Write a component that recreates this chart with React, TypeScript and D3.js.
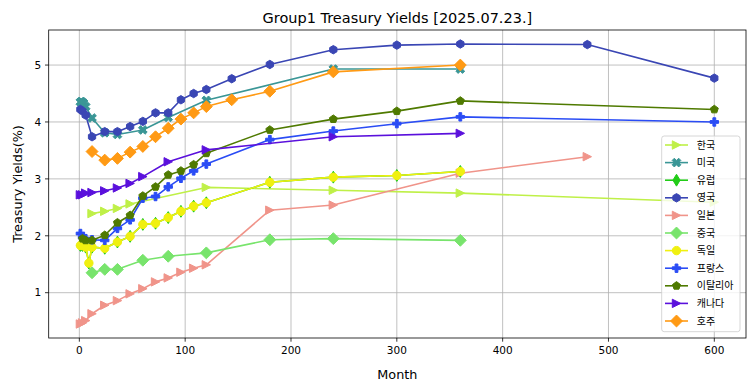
import * as d3 from 'd3'

// maturities in months, yields in %
const koreaM = [12, 24, 36, 48, 120, 240, 360, 600]
const koreaY = [2.39, 2.43, 2.48, 2.56, 2.85, 2.8, 2.75, 2.59]

const usM = [1, 2, 3, 4, 6, 12, 24, 36, 60, 84, 120, 240, 360]
const usY = [4.35, 4.36, 4.34, 4.33, 4.27, 4.07, 3.81, 3.78, 3.86, 4.08, 4.38, 4.93, 4.93]

const euroM = [1, 3, 6, 9, 12, 24, 36, 48, 60, 72, 84, 96, 108, 120, 180, 240, 300, 360]
const euroY = [1.83, 1.83, 1.8, 1.52, 1.8, 1.78, 1.89, 1.99, 2.2, 2.22, 2.32, 2.43, 2.52, 2.58, 2.94, 3.03, 3.06, 3.13]

const ukM = [1, 3, 6, 12, 24, 36, 48, 60, 72, 84, 96, 108, 120, 144, 180, 240, 300, 360, 480, 600]
const ukY = [4.22, 4.19, 4.12, 3.74, 3.83, 3.83, 3.92, 4.01, 4.16, 4.16, 4.39, 4.5, 4.57, 4.76, 5.01, 5.27, 5.35, 5.37, 5.36, 4.77]

const japanM = [1, 3, 6, 12, 24, 36, 48, 60, 72, 84, 96, 108, 120, 180, 240, 360, 480]
const japanY = [0.45, 0.47, 0.51, 0.63, 0.78, 0.86, 0.98, 1.07, 1.19, 1.26, 1.36, 1.43, 1.49, 2.45, 2.54, 3.1, 3.39]

const chinaM = [12, 24, 36, 60, 84, 120, 180, 240, 360]
const chinaY = [1.35, 1.41, 1.41, 1.57, 1.64, 1.7, 1.93, 1.95, 1.92]

const germanyM = [1, 3, 6, 9, 12, 24, 36, 48, 60, 72, 84, 96, 108, 120, 180, 240, 300, 360]
const germanyY = [1.83, 1.83, 1.8, 1.52, 1.8, 1.78, 1.89, 1.99, 2.2, 2.22, 2.32, 2.43, 2.52, 2.58, 2.94, 3.03, 3.06, 3.13]

const franceM = [1, 3, 6, 12, 24, 36, 48, 60, 72, 84, 96, 108, 120, 180, 240, 300, 360, 600]
const franceY = [2.04, 1.97, 1.95, 1.93, 1.92, 2.13, 2.28, 2.66, 2.69, 2.86, 3.01, 3.14, 3.26, 3.69, 3.84, 3.97, 4.09, 4.0]

const italyM = [3, 6, 12, 24, 36, 48, 60, 72, 84, 96, 108, 120, 180, 240, 300, 360, 600]
const italyY = [1.95, 1.92, 1.92, 2.01, 2.23, 2.36, 2.7, 2.86, 3.07, 3.14, 3.25, 3.45, 3.86, 4.05, 4.19, 4.37, 4.22]

const canadaM = [1, 3, 6, 12, 24, 36, 48, 60, 84, 120, 240, 360]
const canadaY = [2.72, 2.72, 2.75, 2.76, 2.79, 2.84, 2.92, 3.04, 3.3, 3.51, 3.74, 3.8]

const australiaM = [12, 24, 36, 48, 60, 72, 84, 96, 108, 120, 144, 180, 240, 360]
const australiaY = [3.48, 3.33, 3.36, 3.47, 3.57, 3.74, 3.89, 4.05, 4.16, 4.27, 4.39, 4.54, 4.88, 5.0]

const names = ['한국', '미국', '유럽', '영국', '일본', '중국', '독일', '프랑스', '이탈리아', '캐나다', '호주']
const colors = ['#bff048', '#3a9696', '#22cc18', '#3a46b4', '#f0948a', '#78e46c', '#f0f010', '#2a4cf5', '#4f7a00', '#5a10dc', '#ff9a14']
const markers = ['>', 'X', 'd', 'h', '>', 'D', 'o', 'P', 'p', '>', 'D']
const monthsList = [koreaM, usM, euroM, ukM, japanM, chinaM, germanyM, franceM, italyM, canadaM, australiaM]
const yieldsList = [koreaY, usY, euroY, ukY, japanY, chinaY, germanyY, franceY, italyY, canadaY, australiaY]

const xTicks = [0, 100, 200, 300, 400, 500, 600]
const yTicks = [1, 2, 3, 4, 5]

const W = 755
const H = 391
const margin = { left: 48.7, top: 30, right: 9, bottom: 53 }
const font = 'DejaVu Sans, sans-serif'

function polygon(n, r, rot = 0) {
	const pts = []
	for (let i = 0; i < n; i++) {
		const a = rot + (i * 2 * Math.PI) / n
		pts.push([r * Math.sin(a), -r * Math.cos(a)])
	}
	return 'M' + pts.map((p) => p.join(',')).join('L') + 'Z'
}

function plusPath(s, angle) {
	const a = s / 6
	const l = s / 2
	const raw = [
		[-a, -l], [a, -l], [a, -a], [l, -a], [l, a], [a, a],
		[a, l], [-a, l], [-a, a], [-l, a], [-l, -a], [-a, -a],
	]
	const c = Math.cos(angle)
	const sn = Math.sin(angle)
	const pts = raw.map(([x, y]) => [x * c - y * sn, x * sn + y * c])
	return 'M' + pts.map((p) => p.join(',')).join('L') + 'Z'
}

function markerPath(type) {
	const s = 8.4
	switch (type) {
		case '>':
			return `M${s / 2},0L${-s / 2},${-s / 2}L${-s / 2},${s / 2}Z`
		case 'D': {
			const h = s * 0.707
			return `M0,${-h}L${h},0L0,${h}L${-h},0Z`
		}
		case 'd': {
			const h = s * 0.707
			const w = h * 0.6
			return `M0,${-h}L${w},0L0,${h}L${-w},0Z`
		}
		case 'h':
			return polygon(6, s / 2)
		case 'p':
			return polygon(5, s / 2)
		case 'P':
			return plusPath(s, 0)
		case 'X':
			return plusPath(s * 1.1, Math.PI / 4)
		default:
			return d3.arc()({ innerRadius: 0, outerRadius: s / 2, startAngle: 0, endAngle: 2 * Math.PI })
	}
}

export default function App() {
	const allM = monthsList.flat()
	const allY = yieldsList.flat()
	const [mMin, mMax] = d3.extent(allM)
	const [yMin, yMax] = d3.extent(allY)
	const px = (mMax - mMin) * 0.05
	const py = (yMax - yMin) * 0.05

	const x = d3.scaleLinear().domain([mMin - px, mMax + px]).range([margin.left, W - margin.right])
	const y = d3.scaleLinear().domain([yMin - py, yMax + py]).range([H - margin.bottom, margin.top])

	const line = d3
		.line()
		.x((d) => x(d[0]))
		.y((d) => y(d[1]))

	const x0 = margin.left
	const x1 = W - margin.right
	const y0 = margin.top
	const y1 = H - margin.bottom

	const legX = 661.7
	const legY = 136
	const rowH = 17.6

	return (
		<div style={{ position: 'absolute', left: 0, top: 0 }}>
			<svg width={W} height={H} style={{ display: 'block', background: '#fff' }}>
				<rect x={0} y={0} width={W} height={H} fill="#fff" />
				{/* grid */}
				<g stroke="#b0b0b0" strokeWidth={0.8}>
					{xTicks.map((t) => (
						<line key={'gx' + t} x1={x(t)} x2={x(t)} y1={y0} y2={y1} />
					))}
					{yTicks.map((t) => (
						<line key={'gy' + t} x1={x0} x2={x1} y1={y(t)} y2={y(t)} />
					))}
				</g>

				<defs>
					<clipPath id="plot">
						<rect x={x0} y={y0} width={x1 - x0} height={y1 - y0} />
					</clipPath>
				</defs>

				<g clipPath="url(#plot)">
					{names.map((name, i) => {
						const pts = monthsList[i].map((m, j) => [m, yieldsList[i][j]])
						const mp = markerPath(markers[i])
						return (
							<g key={name}>
								<path d={line(pts)} fill="none" stroke={colors[i]} strokeWidth={1.6} strokeLinejoin="round" />
								{pts.map((p, j) => (
									<path
										key={j}
										d={mp}
										transform={`translate(${x(p[0])},${y(p[1])})`}
										fill={colors[i]}
										stroke={colors[i]}
										strokeWidth={1}
										strokeLinejoin="miter"
									/>
								))}
							</g>
						)
					})}
				</g>

				{/* axes frame */}
				<rect x={x0} y={y0} width={x1 - x0} height={y1 - y0} fill="none" stroke="#000" strokeWidth={0.8} />

				{/* ticks */}
				<g fontFamily={font} fontSize={10.5} fill="#000">
					{xTicks.map((t) => (
						<g key={'tx' + t}>
							<line x1={x(t)} x2={x(t)} y1={y1} y2={y1 + 3.7} stroke="#000" strokeWidth={0.8} />
							<text x={x(t)} y={y1 + 15.5} textAnchor="middle">
								{t}
							</text>
						</g>
					))}
					{yTicks.map((t) => (
						<g key={'ty' + t}>
							<line x1={x0 - 3.7} x2={x0} y1={y(t)} y2={y(t)} stroke="#000" strokeWidth={0.8} />
							<text x={x0 - 7.5} y={y(t) + 3.8} textAnchor="end">
								{t}
							</text>
						</g>
					))}
				</g>

				{/* labels */}
				<text x={(x0 + x1) / 2} y={22.5} textAnchor="middle" fontFamily={font} fontSize={14.5}>
					Group1 Treasury Yields [2025.07.23.]
				</text>
				<text x={(x0 + x1) / 2} y={378.5} textAnchor="middle" fontFamily={font} fontSize={12.8}>
					Month
				</text>
				<text
					transform={`translate(21.5,${(y0 + y1) / 2}) rotate(-90)`}
					textAnchor="middle"
					fontFamily={font}
					fontSize={12.8}
				>
					Treasury Yields(%)
				</text>

				{/* legend */}
				<rect
					x={legX}
					y={legY}
					width={78.3}
					height={195.7}
					rx={2.5}
					fill="#fff"
					fillOpacity={0.8}
					stroke="#cccccc"
					strokeWidth={0.8}
				/>
				{names.map((name, i) => {
					const cy = legY + 9 + i * rowH
					return (
						<g key={'leg' + name}>
							<line x1={665} x2={688} y1={cy} y2={cy} stroke={colors[i]} strokeWidth={1.6} />
							<path
								d={markerPath(markers[i])}
								transform={`translate(676.5,${cy})`}
								fill={colors[i]}
								stroke={colors[i]}
								strokeWidth={1}
							/>
							<text x={696.7} y={cy + 3.6} fontFamily="'Noto Sans CJK KR', sans-serif" fontSize={10} fill="#000">
								{name}
							</text>
						</g>
					)
				})}
			</svg>
		</div>
	)
}
